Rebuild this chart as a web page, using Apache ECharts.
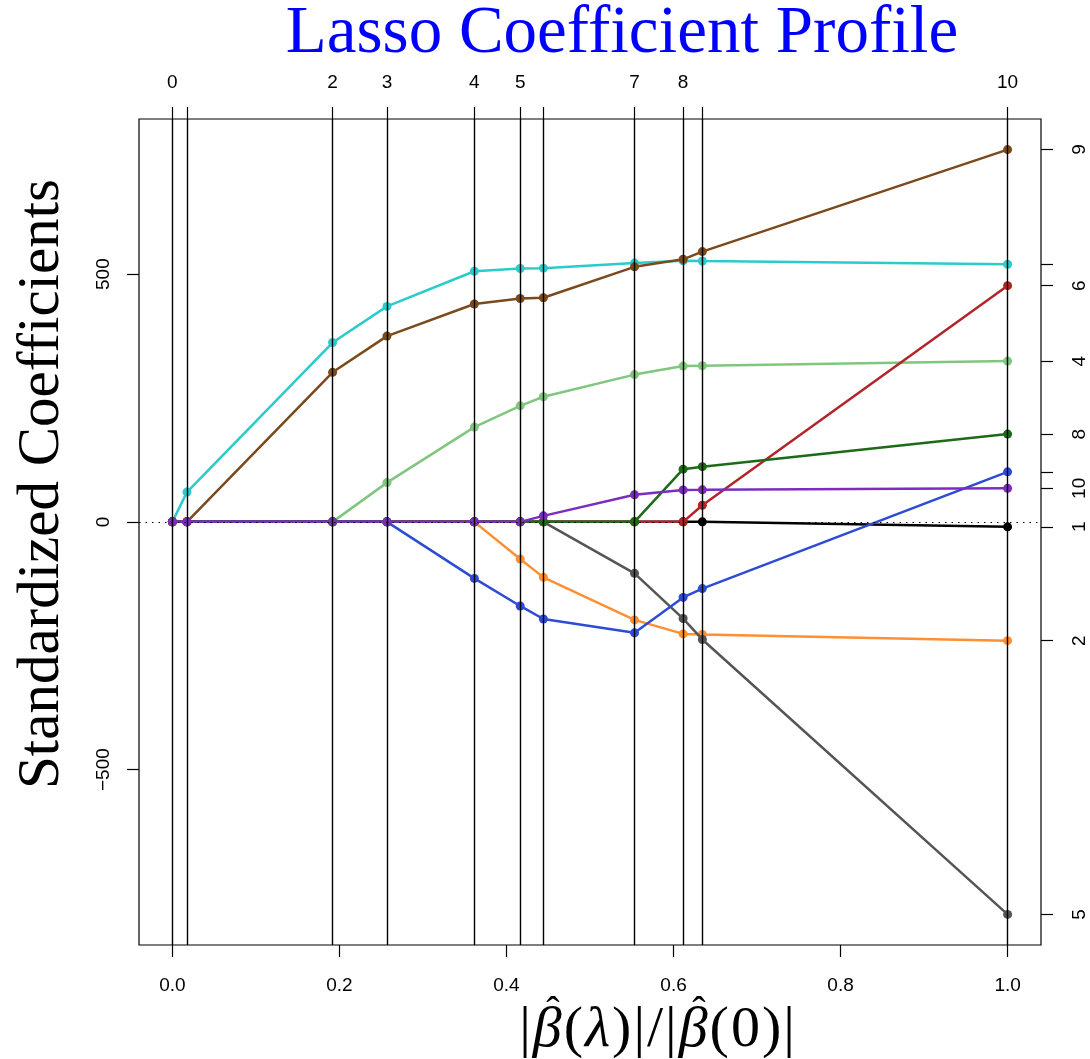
<!DOCTYPE html>
<html>
<head>
<meta charset="utf-8">
<script src="https://cdn.jsdelivr.net/npm/echarts@6/dist/echarts.min.js"></script>
<style>
  html, body { margin: 0; padding: 0; background: #fff; }
  #main { width: 1090px; height: 1059px; }
</style>
</head>
<body>
<div id="main"></div>
<script>
// lasso path: |beta(lambda)| / |beta(0)| at each step
const xSteps = [0, 0.0174, 0.1918, 0.2569, 0.3615, 0.4164, 0.4442, 0.5533, 0.6115, 0.6345, 1.0]
// number of nonzero coefs on top axis ('' = label dropped by overlap)
const dfLabels = ['0', '', '2', '3', '4', '5', '', '7', '8', '', '10']
const xTicks = [0, 0.2, 0.4, 0.6, 0.8, 1.0]
const yTicks = [-500, 0, 500]

// standardized coefficients, one array per variable (1..10)
const coef1 = [0, 0, 0, 0, 0, 0, 0, 0, 0, 0, -10.0]
const coef2 = [0, 0, 0, 0, 0, -74.9, -112.0, -197.8, -226.1, -227.2, -239.8]
const coef3 = [0, 60.1, 361.9, 434.8, 505.7, 511.3, 512.0, 522.3, 526.9, 526.4, 519.8]
const coef4 = [0, 0, 0, 79.2, 191.3, 234.2, 252.5, 297.2, 314.4, 315.0, 324.4]
const coef5 = [0, 0, 0, 0, 0, 0, 0, -103.9, -195.1, -237.3, -792.2]
const coef6 = [0, 0, 0, 0, 0, 0, 0, 0, 0, 33.6, 476.7]
const coef7 = [0, 0, 0, 0, -114.1, -169.7, -196.0, -223.9, -152.5, -134.6, 101.0]
const coef8 = [0, 0, 0, 0, 0, 0, 0, 0, 106.3, 111.4, 177.1]
const coef9 = [0, 0, 301.8, 374.9, 439.7, 450.7, 452.4, 514.7, 529.9, 545.5, 751.3]
const coef10 = [0, 0, 0, 0, 0, 0, 12.1, 54.8, 64.5, 64.6, 67.6]

const varNames = ['1', '2', '3', '4', '5', '6', '7', '8', '9', '10']
// right axis labels ('' = dropped by overlap)
const rightLabels = ['1', '2', '', '4', '5', '6', '', '8', '9', '10']

const coefs = [coef1, coef2, coef3, coef4, coef5, coef6, coef7, coef8, coef9, coef10]
const colors = ['#000000', '#FF8F33', '#2BCBCB', '#80C67E', '#555555', '#B22428', '#2E4BD6', '#1D6A18', '#7B4A1C', '#7A2DBF']

const finals = coefs.map(c => c[c.length - 1])

const axisFont = { fontFamily: 'Liberation Sans, Arial, sans-serif', fontSize: 19, lineHeight: 19, color: '#000' }
const tickStyle = { color: '#000', width: 1.2 }

// x axis title |beta-hat(lambda)| / |beta-hat(0)|, laid out piece by piece
function xTitle(cx, cy, size) {
  const ctx = document.createElement('canvas').getContext('2d')
  const normal = size + 'px "Liberation Serif", serif'
  const ital = 'italic ' + size + 'px "Liberation Serif", serif'
  const pieces = [['|', normal], ['\u03B2', ital, true], ['(', normal], ['\u03BB', ital], [')', normal], ['|', normal],
    ['/', normal], ['|', normal], ['\u03B2', ital, true], ['(', normal], ['0', normal], [')', normal], ['|', normal]]
  const gap = 2
  let widths = pieces.map(p => { ctx.font = p[1]; return ctx.measureText(p[0]).width })
  let total = widths.reduce((a, b) => a + b, 0) + gap * (pieces.length - 1)
  let x = cx - total / 2
  let els = []
  pieces.forEach((p, i) => {
    els.push({ type: 'text', x: x, y: cy, style: { text: p[0], font: p[1], fill: '#000', align: 'left', verticalAlign: 'middle' } })
    if (p[2]) {
      els.push({ type: 'text', x: x + widths[i] / 2 + size * 0.1, y: cy - size * 0.3,
        style: { text: '\u02C6', font: '40px "Liberation Serif", serif', fill: '#000', align: 'center', verticalAlign: 'middle' } })
    }
    x += widths[i] + gap
  })
  return els
}

let chart = echarts.init(document.getElementById('main'))

let series = coefs.map((c, i) => {
  return {
    name: varNames[i],
    type: 'line',
    data: c.map((v, j) => [xSteps[j], v]),
    symbol: 'circle',
    symbolSize: 9,
    showSymbol: true,
    animation: false,
    z: 2 + i * 0.01,
    lineStyle: { color: colors[i], width: 2.5 },
    itemStyle: { color: colors[i] }
  }
})

// vertical step lines + dotted zero line, drawn over the paths
series.push({
  type: 'line',
  data: [],
  z: 5,
  silent: true,
  animation: false,
  markLine: {
    silent: true,
    symbol: 'none',
    precision: 6,
    animation: false,
    label: { show: false },
    data: xSteps.map(x => ({ xAxis: x, lineStyle: { color: '#000', width: 1.4, type: 'solid' } }))
      .concat([{ yAxis: 0, lineStyle: { color: '#000', width: 1, type: [1.5, 5] } }])
  }
})

let option = {
  backgroundColor: '#fff',
  animation: false,
  grid: {
    left: 139, top: 119, right: 49, bottom: 114,
    show: true, borderColor: '#000', borderWidth: 1.2,
    containLabel: false, outerBoundsMode: 'none'
  },
  xAxis: [
    {
      type: 'value', position: 'bottom', min: -0.04, max: 1.04,
      axisLine: { show: false, onZero: false },
      splitLine: { show: false },
      axisTick: { show: true, length: 12, customValues: xTicks, lineStyle: tickStyle },
      axisLabel: Object.assign({ customValues: xTicks, margin: 31, formatter: v => v.toFixed(1) }, axisFont)
    },
    {
      type: 'value', position: 'top', min: -0.04, max: 1.04,
      axisLine: { show: false, onZero: false },
      splitLine: { show: false },
      axisTick: { show: true, length: 12, customValues: xSteps, lineStyle: tickStyle },
      axisLabel: Object.assign({
        customValues: xSteps, margin: 27,
        formatter: v => { let k = xSteps.indexOf(v); return k >= 0 ? dfLabels[k] : '' }
      }, axisFont)
    }
  ],
  yAxis: [
    {
      type: 'value', position: 'left', min: -853.92, max: 813.02,
      axisLine: { show: false, onZero: false },
      splitLine: { show: false },
      axisTick: { show: true, length: 12, customValues: yTicks, lineStyle: tickStyle },
      axisLabel: Object.assign({ customValues: yTicks, rotate: 90, margin: 26, formatter: v => String(v).replace('-', '\u2212') }, axisFont)
    },
    {
      type: 'value', position: 'right', min: -853.92, max: 813.02,
      axisLine: { show: false, onZero: false },
      splitLine: { show: false },
      axisTick: { show: true, length: 12, customValues: finals, lineStyle: tickStyle },
      axisLabel: Object.assign({
        customValues: finals, rotate: 90, margin: 29,
        formatter: v => { let k = finals.indexOf(v); return k >= 0 ? rightLabels[k] : '' }
      }, axisFont)
    }
  ],
  graphic: [
    {
      type: 'text', x: 622, y: 34,
      style: { text: 'Lasso Coefficient Profile', font: '67px "Liberation Serif", serif', fill: '#0000FF', align: 'center', verticalAlign: 'middle' }
    },
    {
      type: 'text', x: 42, y: 484, rotation: Math.PI / 2,
      style: { text: 'Standardized Coefficients', font: '59px "Liberation Serif", serif', fill: '#000', align: 'center', verticalAlign: 'middle' }
    }
  ].concat(xTitle(657, 1031, 58)),
  series
}
chart.setOption(option)
</script>
</body>
</html>
